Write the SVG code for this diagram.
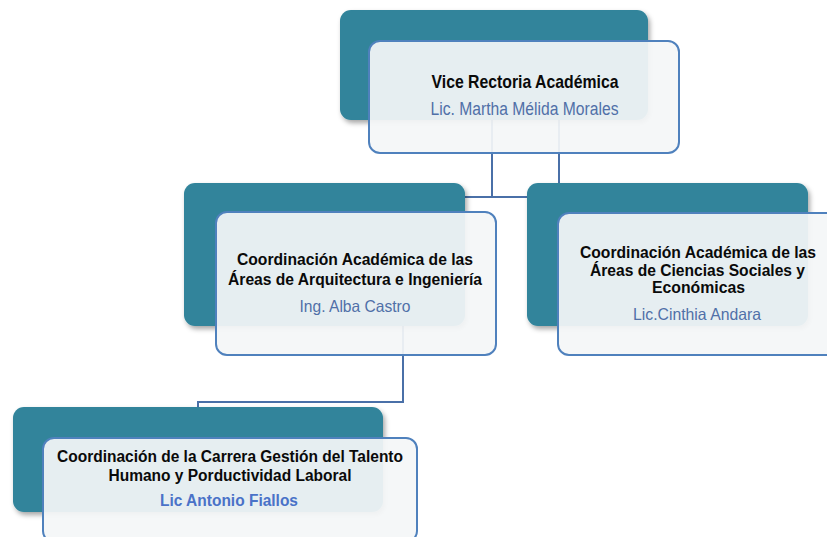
<svg xmlns="http://www.w3.org/2000/svg" width="827" height="537" viewBox="0 0 827 537">
  <defs>
    <filter id="shadow" x="-10%" y="-10%" width="125%" height="130%">
      <feDropShadow dx="2" dy="3" stdDeviation="2.5" flood-color="#000" flood-opacity="0.35"/>
    </filter>
    <style>
      .teal { fill: #31849b; filter: url(#shadow); }
      .card { fill: #f4f6f7; fill-opacity: 0.93; stroke: #4f81bd; stroke-width: 2; }
      .conn { fill: none; stroke: #4a70a8; stroke-width: 2; }
      .t { font-family: "Liberation Sans", Arial, sans-serif; font-weight: 700; fill: #0a0a0a; text-anchor: middle; }
      .n { font-family: "Liberation Sans", Arial, sans-serif; fill: #5070a8; text-anchor: middle; }
      .nb { font-family: "Liberation Sans", Arial, sans-serif; font-weight: 700; fill: #4a72c8; text-anchor: middle; }
    </style>
  </defs>
  <rect width="827" height="537" fill="#ffffff"/>

  <g id="connectors">
    <path class="conn" d="M492,115 V197"/>
    <path class="conn" d="M440,197 H540"/>
    <path class="conn" d="M559,115 V190"/>
    <path class="conn" d="M403,320 V402 H198 V420"/>
  </g>

  <g id="node-vice-rectoria">
    <rect class="teal" x="340" y="10" width="308" height="110" rx="11"/>
    <rect class="card" x="369" y="41" width="310" height="112" rx="11"/>
    <text class="t" x="525" y="88" font-size="18.5" textLength="187" lengthAdjust="spacingAndGlyphs">Vice Rectoria Académica</text>
    <text class="n" x="524.5" y="115" font-size="18" textLength="188" lengthAdjust="spacingAndGlyphs">Lic. Martha Mélida Morales</text>
  </g>

  <g id="node-arquitectura">
    <rect class="teal" x="184" y="183" width="281" height="143" rx="11"/>
    <rect class="card" x="216" y="212" width="280" height="143" rx="11"/>
    <text class="t" x="355" y="265" font-size="16" textLength="236" lengthAdjust="spacingAndGlyphs">Coordinación Académica de las</text>
    <text class="t" x="355" y="284.5" font-size="16" textLength="254" lengthAdjust="spacingAndGlyphs">Áreas de Arquitectura e Ingeniería</text>
    <text class="n" x="355" y="311.5" font-size="16.5" textLength="111" lengthAdjust="spacingAndGlyphs">Ing. Alba Castro</text>
  </g>

  <g id="node-ciencias-sociales">
    <rect class="teal" x="527" y="183" width="281" height="143" rx="11"/>
    <rect class="card" x="558" y="213" width="280" height="142" rx="11"/>
    <text class="t" x="698" y="258" font-size="16" textLength="236" lengthAdjust="spacingAndGlyphs">Coordinación Académica de las</text>
    <text class="t" x="697.5" y="275.5" font-size="16" textLength="215" lengthAdjust="spacingAndGlyphs">Áreas de Ciencias Sociales y</text>
    <text class="t" x="698.5" y="293" font-size="16" textLength="93" lengthAdjust="spacingAndGlyphs">Económicas</text>
    <text class="n" x="697" y="320" font-size="16.5" textLength="128" lengthAdjust="spacingAndGlyphs">Lic.Cinthia Andara</text>
  </g>

  <g id="node-talento-humano">
    <rect class="teal" x="13" y="407" width="370" height="105" rx="11"/>
    <rect class="card" x="43" y="438" width="374" height="104" rx="11"/>
    <text class="t" x="230" y="461.5" font-size="16" textLength="346" lengthAdjust="spacingAndGlyphs">Coordinación de la Carrera Gestión del Talento</text>
    <text class="t" x="230" y="480.5" font-size="16" textLength="243" lengthAdjust="spacingAndGlyphs">Humano y Porductividad Laboral</text>
    <text class="nb" x="229" y="505.5" font-size="16.5" textLength="138" lengthAdjust="spacingAndGlyphs">Lic Antonio Fiallos</text>
  </g>
</svg>
